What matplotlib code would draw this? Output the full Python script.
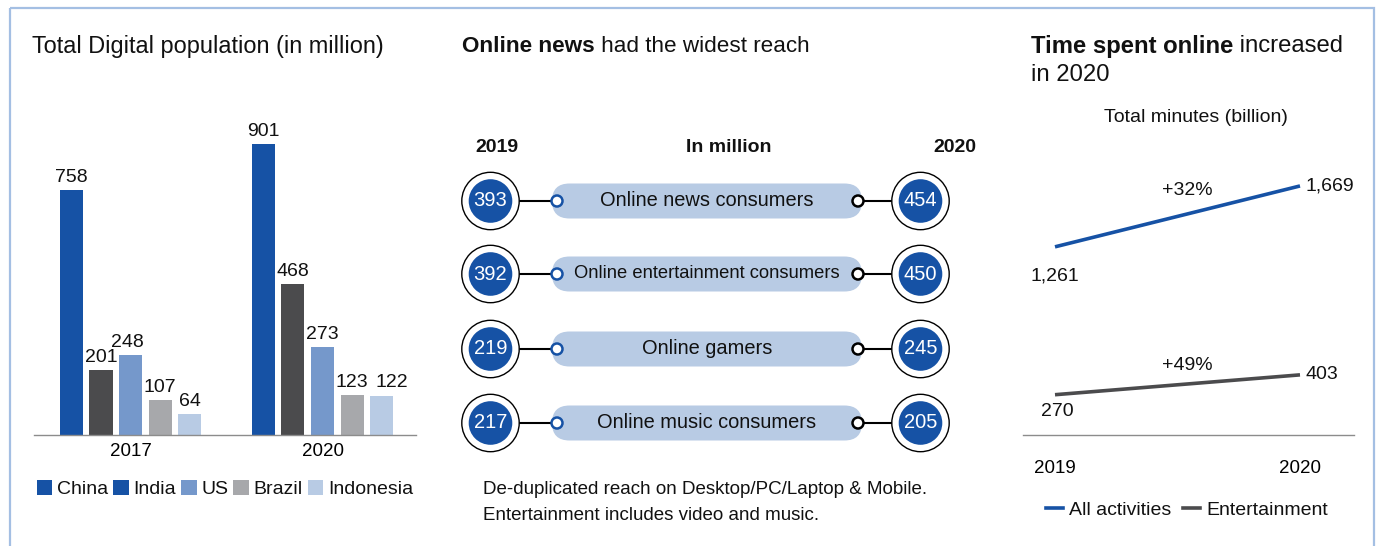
import matplotlib as mpl
import matplotlib.pyplot as plt
from matplotlib.patches import Circle, FancyBboxPatch, Rectangle, Patch
from matplotlib.lines import Line2D

mpl.rcParams.update({
    "font.family": ["Liberation Sans", "DejaVu Sans"],
    "font.size": 14,
    "text.color": "#111111",
    "axes.linewidth": 1.0,
})

W, H = 1379, 546

# ── data ──
countries = ["China", "India", "US", "Brazil", "Indonesia"]
bar_years = ["2017", "2020"]
pop_2017 = [758, 201, 248, 107, 64]
pop_2020 = [901, 468, 273, 123, 122]
bar_colors = ["#1652a5", "#4b4b4d", "#7598cb", "#a7a8ab", "#b8cbe4"]
legend_colors = ["#1652a5", "#1652a5", "#7598cb", "#a7a8ab", "#b8cbe4"]  # as printed in the source

reach_labels = ["Online news consumers", "Online entertainment consumers",
                "Online gamers", "Online music consumers"]
reach_2019 = [393, 392, 219, 217]
reach_2020 = [454, 450, 245, 205]

line_years = ["2019", "2020"]
all_activities = [1261, 1669]
entertainment = [270, 403]
growth_all = "+32%"
growth_ent = "+49%"

BLUE = "#1652a5"
GREY = "#4b4b4d"
PILL = "#b8cbe4"


def px_box(x0, y0, x1, y1):
    return [x0 / W, 1 - y1 / H, (x1 - x0) / W, (y1 - y0) / H]


fig = plt.figure(figsize=(W / 100, H / 100), dpi=100)

# ── Panel A: bars ──
ax1 = fig.add_axes(px_box(34, 100, 416, 435))
n = len(countries)
step, width = 0.154, 0.12
# small label nudges (points) so neighbouring labels don't collide
nudge = {(1, 4): 7, (0, 2): -2}
for i, c in enumerate(countries):
    xs = [g + (i - (n - 1) / 2) * step for g in range(len(bar_years))]
    vals = [pop_2017[i], pop_2020[i]]
    bars = ax1.bar(xs, vals, width=width, color=bar_colors[i], zorder=2)
    for g, (b, v) in enumerate(zip(bars, vals)):
        ax1.annotate(f"{v}", (b.get_x() + b.get_width() / 2, v),
                     xytext=(nudge.get((g, i), 0), 3),
                     textcoords="offset points", ha="center", va="bottom", fontsize=14)
ax1.set_xlim(-0.503, 1.487)
ax1.set_ylim(0, 1037)
ax1.set_xticks(range(len(bar_years)))
ax1.set_xticklabels(bar_years, fontsize=13.5)
ax1.tick_params(axis="x", length=0, pad=6)
ax1.set_yticks([])
for s in ["left", "right", "top"]:
    ax1.spines[s].set_visible(False)
ax1.spines["bottom"].set_color("#8c8c8c")
ax1.patch.set_alpha(0)

handles = [Patch(facecolor=col, edgecolor="none") for col in legend_colors]
fig.legend(handles, countries, loc="center left", bbox_to_anchor=(27 / W, 1 - 489 / H),
           ncol=5, frameon=False, handlelength=0.8, handleheight=0.8,
           handletextpad=0.25, columnspacing=0.25, borderpad=0, fontsize=14)

# ── Panel C: lines ──
ax3 = fig.add_axes(px_box(1023, 100, 1354, 435))
xs = range(len(line_years))
ax3.plot(xs, all_activities, color=BLUE, lw=2.6, solid_capstyle="butt")
ax3.plot(xs, entertainment, color=GREY, lw=2.6, solid_capstyle="butt")
ax3.set_xlim(-0.1306, 1.2204)
ax3.set_ylim(0, 2245)
ax3.set_xticks(list(xs))
ax3.set_xticklabels(line_years, fontsize=13.5)
ax3.tick_params(axis="x", length=0, pad=18)
ax3.set_yticks([])
for s in ["left", "right", "top"]:
    ax3.spines[s].set_visible(False)
ax3.spines["bottom"].set_color("#8c8c8c")
ax3.patch.set_alpha(0)

ax3.annotate(f"{all_activities[0]:,}", (0, all_activities[0]), xytext=(0, -21),
             textcoords="offset points", ha="center", va="center")
ax3.annotate(f"{all_activities[1]:,}", (1, all_activities[1]), xytext=(4, 0),
             textcoords="offset points", ha="left", va="center")
ax3.annotate(f"{entertainment[0]:,}", (0, entertainment[0]), xytext=(2, -12),
             textcoords="offset points", ha="center", va="center")
ax3.annotate(f"{entertainment[1]:,}", (1, entertainment[1]), xytext=(4, 0),
             textcoords="offset points", ha="left", va="center")
ax3.annotate(growth_all, (0.54, sum(all_activities) / 2), xytext=(0, 19),
             textcoords="offset points", ha="center", va="center")
ax3.annotate(growth_ent, (0.54, sum(entertainment) / 2), xytext=(0, 14),
             textcoords="offset points", ha="center", va="center")

lh = [Line2D([], [], color=BLUE, lw=2.6), Line2D([], [], color=GREY, lw=2.6)]
fig.legend(lh, ["All activities", "Entertainment"], loc="center left",
           bbox_to_anchor=(1036 / W, 1 - 510 / H), ncol=2, frameon=False,
           handlelength=0.9, handletextpad=0.3, columnspacing=0.6, borderpad=0,
           fontsize=14)

# ── overlay in pixel units: frame, titles, Panel B ──
ov = fig.add_axes([0, 0, 1, 1])
ov.set_xlim(0, W)
ov.set_ylim(H, 0)
ov.axis("off")

ov.add_patch(Rectangle((10, 8), 1364, 560, fill=False, edgecolor="#a4bfe3", lw=1.6))

renderer = fig.canvas.get_renderer()


def mixed(x, y, parts, size):
    for txt, weight in parts:
        t = ov.text(x, y, txt, fontsize=size, fontweight=weight, va="center", ha="left")
        bb = t.get_window_extent(renderer)
        x = bb.x1


ov.text(32, 46, "Total Digital population (in million)", fontsize=16.9, va="center")
mixed(462, 46, [("Online news", "bold"), (" had the widest reach", "normal")], 16.2)
mixed(1031, 46, [("Time spent online", "bold"), (" increased", "normal")], 17.2)
ov.text(1031, 75, "in 2020", fontsize=17.2, va="center")
ov.text(1196, 117, "Total minutes (billion)", fontsize=14, va="center", ha="center")

ov.text(497, 147, "2019", fontsize=14, fontweight="bold", ha="center", va="center")
ov.text(729, 147, "In million", fontsize=14, fontweight="bold", ha="center", va="center")
ov.text(955, 147, "2020", fontsize=14, fontweight="bold", ha="center", va="center")

row_y = [201, 274, 349, 423]
lx, rx = 490.5, 920.5
for y, lab, v19, v20 in zip(row_y, reach_labels, reach_2019, reach_2020):
    ov.plot([lx + 28, 557], [y, y], color="black", lw=1.5, zorder=1)
    ov.plot([858, rx - 28], [y, y], color="black", lw=1.5, zorder=1)
    ov.add_patch(FancyBboxPatch((552, y - 17.5), 310, 35,
                                boxstyle="round,pad=0,rounding_size=17.5",
                                facecolor=PILL, edgecolor="none", zorder=2))
    ov.add_patch(Circle((557, y), 5.5, facecolor="white", edgecolor=BLUE, lw=1.8, zorder=3))
    ov.add_patch(Circle((858, y), 5.5, facecolor="white", edgecolor="black", lw=1.8, zorder=3))
    for cx, v in [(lx, v19), (rx, v20)]:
        ov.add_patch(Circle((cx, y), 28.7, facecolor="white", edgecolor="black", lw=1.0, zorder=3))
        ov.add_patch(Circle((cx, y), 21.8, facecolor=BLUE, edgecolor="none", zorder=4))
        ov.text(cx, y, f"{v}", color="white", fontsize=14.5, ha="center", va="center", zorder=5)
    fs = 13.2 if len(lab) > 25 else 14.4
    ov.text(707, y, lab, fontsize=fs, ha="center", va="center", zorder=5)

ov.text(483, 490, "De-duplicated reach on Desktop/PC/Laptop & Mobile.", fontsize=13.5, va="center")
ov.text(483, 515, "Entertainment includes video and music.", fontsize=13.5, va="center")

fig.savefig("out.png", dpi=100)
